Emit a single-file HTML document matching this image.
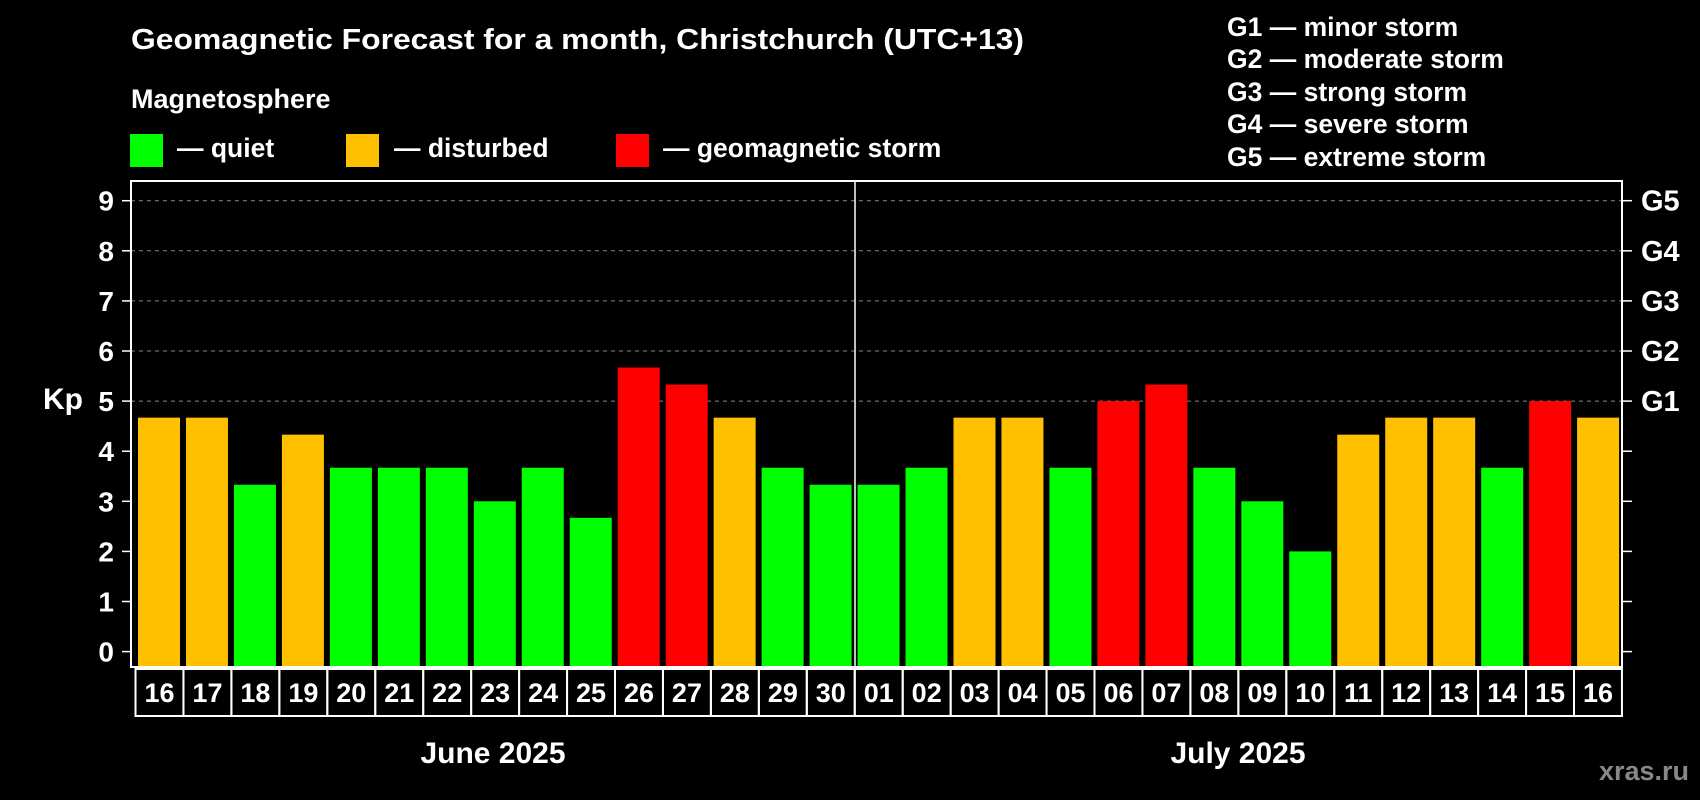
<!DOCTYPE html>
<html><head><meta charset="utf-8"><style>
html,body{margin:0;padding:0;background:#000;}
svg{display:block;font-family:"Liberation Sans",Arial,sans-serif;font-weight:bold;}
</style></head><body>
<svg id="c" width="1700" height="800" viewBox="0 0 1700 800">
<rect width="1700" height="800" fill="#000"/>
<text x="131" y="49" fill="#fff" font-size="29" textLength="893" lengthAdjust="spacingAndGlyphs">Geomagnetic Forecast for a month, Christchurch (UTC+13)</text>
<text x="131" y="108" fill="#fff" font-size="27">Magnetosphere</text>
<g><rect x="130" y="134" width="33" height="33" fill="#00ff00"/><text x="177" y="157" fill="#fff" font-size="26.5">— quiet</text></g>
<g><rect x="346" y="134" width="33" height="33" fill="#ffc000"/><text x="394" y="157" fill="#fff" font-size="26.5">— disturbed</text></g>
<g><rect x="616" y="134" width="33" height="33" fill="#ff0000"/><text x="663" y="157" fill="#fff" font-size="26.5">— geomagnetic storm</text></g>
<g fill="#fff" font-size="26.5">
<text x="1227" y="36">G1 — minor storm</text>
<text x="1227" y="68">G2 — moderate storm</text>
<text x="1227" y="101">G3 — strong storm</text>
<text x="1227" y="133">G4 — severe storm</text>
<text x="1227" y="166">G5 — extreme storm</text>
</g>
<text x="43" y="409" fill="#fff" font-size="30">Kp</text>
<g id="grid"></g><g id="bars"></g><g id="axes"></g>
<text x="493" y="763" fill="#fff" font-size="30" text-anchor="middle">June 2025</text>
<text x="1238" y="763" fill="#fff" font-size="30" text-anchor="middle">July 2025</text>
<text x="1689" y="780" fill="#888" font-size="27" text-anchor="end">xras.ru</text>
</svg>
<script>
const days = ["16","17","18","19","20","21","22","23","24","25","26","27","28","29","30","01","02","03","04","05","06","07","08","09","10","11","12","13","14","15","16"];
const kpValues = [4.67,4.67,3.33,4.33,3.67,3.67,3.67,3,3.67,2.67,5.67,5.33,4.67,3.67,3.33,3.33,3.67,4.67,4.67,3.67,5,5.33,3.67,3,2,4.33,4.67,4.67,3.67,5,4.67];
const yTicks = [0,1,2,3,4,5,6,7,8,9];
const gLabels = ["G1","G2","G3","G4","G5"];
const gLevels = [5,6,7,8,9];
const NS="http://www.w3.org/2000/svg";
const y = v => 651.6 - v*50.1;
const x = i => 138 + i*47.97;
function mk(t,a,p){const e=document.createElementNS(NS,t);for(const k in a)e.setAttribute(k,a[k]);p.appendChild(e);return e;}
const grid=document.getElementById('grid'),bars=document.getElementById('bars'),axes=document.getElementById('axes');
gLevels.forEach(v=>{const l=mk('line',{x1:131,x2:1622,y1:y(v),y2:y(v),stroke:'#888','stroke-dasharray':'4,4','stroke-width':1},grid);

});
function col(v){return v>=5?'#ff0000':(v>=4?'#ffc000':'#00ff00');}
kpValues.forEach((v,i)=>{const r=mk('rect',{x:x(i),y:y(v),width:42,height:667-y(v),fill:col(v)},bars);

});
mk('rect',{x:131,y:181,width:1491,height:486,fill:'none',stroke:'#fff','stroke-width':2},axes);
mk('line',{x1:855,x2:855,y1:181,y2:667,stroke:'#fff','stroke-width':1.5},axes);
yTicks.forEach(v=>{mk('line',{x1:122,x2:131,y1:y(v),y2:y(v),stroke:'#fff','stroke-width':1.5},axes);
mk('line',{x1:1622,x2:1632,y1:y(v),y2:y(v),stroke:'#fff','stroke-width':1.5},axes);
const t=mk('text',{x:114,y:y(v)+10,fill:'#fff','font-size':28,'text-anchor':'end'},axes);t.textContent=v;

});
gLevels.forEach((v,i)=>{const t=mk('text',{x:1641,y:y(v)+10,fill:'#fff','font-size':29},axes);t.textContent=gLabels[i];

});
days.forEach((d,i)=>{const cx=135.5+i*47.95;
const r=mk('rect',{x:cx,y:669,width:47.95,height:47,fill:'none',stroke:'#fff','stroke-width':2},axes);


const t=mk('text',{x:cx+24,y:702,fill:'#fff','font-size':27,'text-anchor':'middle'},axes);t.textContent=d;

});
</script>
</body></html>
